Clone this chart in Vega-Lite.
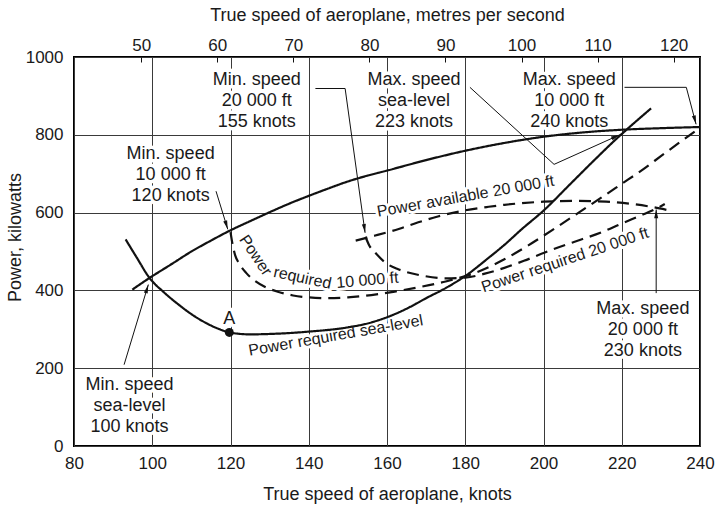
{
  "$schema": "https://vega.github.io/schema/vega-lite/v6.json",
  "width": 626,
  "height": 389,
  "autosize": {"type": "none"},
  "padding": {"left": 74, "top": 57, "right": 18, "bottom": 61},
  "background": "white",
  "config": {
    "view": {"stroke": "#000", "strokeWidth": 2},
    "font": "Liberation Sans",
    "text": {"font": "Liberation Sans", "color": "#1a1a1a"},
    "axis": {
      "labelFont": "Liberation Sans", "titleFont": "Liberation Sans",
      "labelFontSize": 17, "titleFontSize": 18,
      "labelColor": "#1a1a1a", "titleColor": "#1a1a1a", "titleFontWeight": "normal",
      "gridColor": "#3a3a3a", "gridOpacity": 1, "gridWidth": 1,
      "domain": false, "ticks": false, "labelFlush": false, "labelOverlap": false
    }
  },
  "datasets": {
    "curves": [
      {"series": "avail", "knots": 94.9, "kw": 402}, {"series": "avail", "knots": 99.3, "kw": 432},
      {"series": "avail", "knots": 105, "kw": 468}, {"series": "avail", "knots": 110, "kw": 500},
      {"series": "avail", "knots": 115, "kw": 528}, {"series": "avail", "knots": 119.5, "kw": 552},
      {"series": "avail", "knots": 125, "kw": 578}, {"series": "avail", "knots": 130, "kw": 601},
      {"series": "avail", "knots": 135, "kw": 623}, {"series": "avail", "knots": 140, "kw": 643},
      {"series": "avail", "knots": 145, "kw": 662}, {"series": "avail", "knots": 150, "kw": 680},
      {"series": "avail", "knots": 155, "kw": 695}, {"series": "avail", "knots": 160, "kw": 708},
      {"series": "avail", "knots": 170, "kw": 735}, {"series": "avail", "knots": 180, "kw": 759},
      {"series": "avail", "knots": 190, "kw": 779}, {"series": "avail", "knots": 200, "kw": 795},
      {"series": "avail", "knots": 210, "kw": 806}, {"series": "avail", "knots": 220, "kw": 813},
      {"series": "avail", "knots": 230, "kw": 817}, {"series": "avail", "knots": 240, "kw": 820},

      {"series": "req_sl", "knots": 93.2, "kw": 531}, {"series": "req_sl", "knots": 96, "kw": 485},
      {"series": "req_sl", "knots": 99.3, "kw": 432}, {"series": "req_sl", "knots": 103, "kw": 395},
      {"series": "req_sl", "knots": 106.8, "kw": 363}, {"series": "req_sl", "knots": 110, "kw": 339},
      {"series": "req_sl", "knots": 113.6, "kw": 317}, {"series": "req_sl", "knots": 117, "kw": 301},
      {"series": "req_sl", "knots": 119.7, "kw": 292}, {"series": "req_sl", "knots": 125, "kw": 287},
      {"series": "req_sl", "knots": 130, "kw": 288}, {"series": "req_sl", "knots": 140, "kw": 294},
      {"series": "req_sl", "knots": 150, "kw": 305}, {"series": "req_sl", "knots": 155, "kw": 315},
      {"series": "req_sl", "knots": 160, "kw": 331}, {"series": "req_sl", "knots": 166, "kw": 358},
      {"series": "req_sl", "knots": 170, "kw": 380}, {"series": "req_sl", "knots": 175, "kw": 406},
      {"series": "req_sl", "knots": 180, "kw": 437}, {"series": "req_sl", "knots": 186, "kw": 484},
      {"series": "req_sl", "knots": 190, "kw": 517}, {"series": "req_sl", "knots": 194.4, "kw": 557},
      {"series": "req_sl", "knots": 200, "kw": 605}, {"series": "req_sl", "knots": 207, "kw": 675},
      {"series": "req_sl", "knots": 213, "kw": 735}, {"series": "req_sl", "knots": 219, "kw": 793},
      {"series": "req_sl", "knots": 222, "kw": 820}, {"series": "req_sl", "knots": 227.5, "kw": 868},

      {"series": "req_10k", "knots": 120, "kw": 550}, {"series": "req_10k", "knots": 120.5, "kw": 520},
      {"series": "req_10k", "knots": 121.2, "kw": 490}, {"series": "req_10k", "knots": 122.1, "kw": 471},
      {"series": "req_10k", "knots": 124, "kw": 445}, {"series": "req_10k", "knots": 126.3, "kw": 424},
      {"series": "req_10k", "knots": 129, "kw": 408}, {"series": "req_10k", "knots": 132.3, "kw": 396},
      {"series": "req_10k", "knots": 136, "kw": 387}, {"series": "req_10k", "knots": 140, "kw": 382},
      {"series": "req_10k", "knots": 145, "kw": 380}, {"series": "req_10k", "knots": 150, "kw": 382},
      {"series": "req_10k", "knots": 156, "kw": 388}, {"series": "req_10k", "knots": 162, "kw": 397},
      {"series": "req_10k", "knots": 168, "kw": 408}, {"series": "req_10k", "knots": 175, "kw": 423},
      {"series": "req_10k", "knots": 183, "kw": 447}, {"series": "req_10k", "knots": 190, "kw": 480},
      {"series": "req_10k", "knots": 196, "kw": 515}, {"series": "req_10k", "knots": 203, "kw": 560},
      {"series": "req_10k", "knots": 209, "kw": 600}, {"series": "req_10k", "knots": 215, "kw": 640},
      {"series": "req_10k", "knots": 220, "kw": 674}, {"series": "req_10k", "knots": 225, "kw": 708},
      {"series": "req_10k", "knots": 230, "kw": 745}, {"series": "req_10k", "knots": 235, "kw": 782},
      {"series": "req_10k", "knots": 240, "kw": 818},

      {"series": "req_20k", "knots": 154.5, "kw": 538}, {"series": "req_20k", "knots": 155.5, "kw": 515},
      {"series": "req_20k", "knots": 157, "kw": 497}, {"series": "req_20k", "knots": 159.5, "kw": 472},
      {"series": "req_20k", "knots": 163, "kw": 454}, {"series": "req_20k", "knots": 169, "kw": 438},
      {"series": "req_20k", "knots": 175, "kw": 431}, {"series": "req_20k", "knots": 180, "kw": 433},
      {"series": "req_20k", "knots": 185, "kw": 443}, {"series": "req_20k", "knots": 190, "kw": 458},
      {"series": "req_20k", "knots": 195, "kw": 476}, {"series": "req_20k", "knots": 200, "kw": 496},
      {"series": "req_20k", "knots": 205, "kw": 515}, {"series": "req_20k", "knots": 210, "kw": 532},
      {"series": "req_20k", "knots": 215, "kw": 550}, {"series": "req_20k", "knots": 220, "kw": 572},
      {"series": "req_20k", "knots": 225, "kw": 593}, {"series": "req_20k", "knots": 228.4, "kw": 608},
      {"series": "req_20k", "knots": 231, "kw": 622},

      {"series": "avail_20k", "knots": 152, "kw": 528}, {"series": "avail_20k", "knots": 157, "kw": 541},
      {"series": "avail_20k", "knots": 163, "kw": 558}, {"series": "avail_20k", "knots": 168, "kw": 575},
      {"series": "avail_20k", "knots": 173, "kw": 590}, {"series": "avail_20k", "knots": 180, "kw": 606},
      {"series": "avail_20k", "knots": 186, "kw": 615}, {"series": "avail_20k", "knots": 190, "kw": 620},
      {"series": "avail_20k", "knots": 200, "kw": 628}, {"series": "avail_20k", "knots": 208, "kw": 630},
      {"series": "avail_20k", "knots": 216, "kw": 628}, {"series": "avail_20k", "knots": 222, "kw": 623},
      {"series": "avail_20k", "knots": 228, "kw": 614}, {"series": "avail_20k", "knots": 231.5, "kw": 607}
    ],
    "notes": [
      {"text": "Min. speed\n20 000 ft\n155 knots", "knots": 126.7, "kw": 941},
      {"text": "Max. speed\nsea-level\n223 knots", "knots": 166.9, "kw": 941},
      {"text": "Max. speed\n10 000 ft\n240 knots", "knots": 206.6, "kw": 941},
      {"text": "Min. speed\n10 000 ft\n120 knots", "knots": 104.7, "kw": 751},
      {"text": "Min. speed\nsea-level\n100 knots", "knots": 94.2, "kw": 157},
      {"text": "Max. speed\n20 000 ft\n230 knots", "knots": 225.4, "kw": 352},
      {"text": "A", "knots": 119.7, "kw": 327}
    ],
    "leaders": [
      {"id": "L1", "knots": 92.8, "kw": 209}, {"id": "L1", "knots": 99, "kw": 415},
      {"id": "L2", "knots": 116.3, "kw": 655}, {"id": "L2", "knots": 119.3, "kw": 557},
      {"id": "L3", "knots": 141.7, "kw": 919}, {"id": "L3", "knots": 149.3, "kw": 919}, {"id": "L3", "knots": 154.4, "kw": 548},
      {"id": "L4", "knots": 181.2, "kw": 922}, {"id": "L4", "knots": 202.7, "kw": 724}, {"id": "L4", "knots": 219.5, "kw": 800},
      {"id": "L5", "knots": 220.7, "kw": 922}, {"id": "L5", "knots": 236.5, "kw": 922}, {"id": "L5", "knots": 239, "kw": 827},
      {"id": "L6", "knots": 228.8, "kw": 393}, {"id": "L6", "knots": 228.8, "kw": 608}
    ],
    "tips": [
      {"id": "L1", "knots": 99, "kw": 415},
      {"id": "L2", "knots": 119.3, "kw": 557},
      {"id": "L3", "knots": 154.4, "kw": 548},
      {"id": "L4", "knots": 219.5, "kw": 800},
      {"id": "L5", "knots": 239, "kw": 827},
      {"id": "L6", "knots": 228.8, "kw": 608}
    ],
    "pointA": [{"knots": 119.7, "kw": 292}],
    "ms": [{"ms": 41.156}, {"ms": 123.467}]
  },
  "layer": [
    {
      "encoding": {
        "x": {"field": "knots", "type": "quantitative", "scale": {"domain": [80, 240], "nice": false, "zero": false},
          "axis": {"values": [80, 100, 120, 140, 160, 180, 200, 220, 240], "title": "True speed of aeroplane, knots", "grid": true, "labelPadding": 9, "titleBaseline": "middle", "titleY": 48}},
        "y": {"field": "kw", "type": "quantitative", "scale": {"domain": [0, 1000], "nice": false, "zero": true},
          "axis": {"values": [0, 200, 400, 600, 800, 1000], "format": "d", "title": "Power, kilowatts", "grid": true, "labelPadding": 11, "titleBaseline": "middle", "titleX": -59, "titleY": 180}}
      },
      "layer": [
        {
          "data": {"name": "notes"},
          "mark": {"type": "text", "fontSize": 18, "lineHeight": 21, "lineBreak": "\n", "align": "center", "baseline": "middle", "fill": "white", "stroke": "white", "strokeWidth": 7, "strokeJoin": "round"},
          "encoding": {"text": {"field": "text", "type": "nominal"}}
        },
        {
          "data": {"values": [{"label": "Power required sea-level", "knots": 146.9, "kw": 284}]},
          "mark": {"type": "text", "fontSize": 16, "angle": -10, "align": "center", "baseline": "middle", "fill": "white", "stroke": "white", "strokeWidth": 6, "strokeJoin": "round"},
          "encoding": {"text": {"field": "label"}}
        },
        {
          "data": {"values": [{"label": "Power", "knots": 126.4, "kw": 490}]},
          "mark": {"type": "text", "fontSize": 16, "angle": 56, "align": "center", "baseline": "middle", "fill": "white", "stroke": "white", "strokeWidth": 6, "strokeJoin": "round"},
          "encoding": {"text": {"field": "label"}}
        },
        {
          "data": {"values": [{"label": "required", "knots": 138.4, "kw": 432}]},
          "mark": {"type": "text", "fontSize": 16, "angle": 12, "align": "center", "baseline": "middle", "fill": "white", "stroke": "white", "strokeWidth": 6, "strokeJoin": "round"},
          "encoding": {"text": {"field": "label"}}
        },
        {
          "data": {"values": [{"label": "10 000 ft", "knots": 155, "kw": 426}]},
          "mark": {"type": "text", "fontSize": 16, "angle": -5, "align": "center", "baseline": "middle", "fill": "white", "stroke": "white", "strokeWidth": 6, "strokeJoin": "round"},
          "encoding": {"text": {"field": "label"}}
        },
        {
          "data": {"values": [{"label": "Power available 20 000 ft", "knots": 180.1, "kw": 642}]},
          "mark": {"type": "text", "fontSize": 16, "angle": -10, "align": "center", "baseline": "middle", "fill": "white", "stroke": "white", "strokeWidth": 6, "strokeJoin": "round"},
          "encoding": {"text": {"field": "label"}}
        },
        {
          "data": {"values": [{"label": "Power required 20 000 ft", "knots": 205.5, "kw": 478}]},
          "mark": {"type": "text", "fontSize": 16, "angle": -18.5, "align": "center", "baseline": "middle", "fill": "white", "stroke": "white", "strokeWidth": 6, "strokeJoin": "round"},
          "encoding": {"text": {"field": "label"}}
        },
        {
          "data": {"name": "curves"},
          "mark": {"type": "line", "interpolate": "monotone", "color": "#111"},
          "encoding": {
            "detail": {"field": "series"},
            "strokeDash": {"field": "series", "type": "nominal", "scale": {"domain": ["avail", "req_sl", "req_10k", "req_20k", "avail_20k"], "range": [[1, 0], [1, 0], [12, 7], [12, 7], [12, 7]]}, "legend": null},
            "strokeWidth": {"field": "series", "type": "nominal", "scale": {"domain": ["avail", "req_sl", "req_10k", "req_20k", "avail_20k"], "range": [2.2, 2.2, 1.5, 1.5, 1.5]}, "legend": null}
          }
        },
        {
          "data": {"name": "leaders"},
          "mark": {"type": "line", "color": "#111", "strokeWidth": 1},
          "encoding": {"detail": {"field": "id"}, "order": {"value": null}}
        },
        {"data": {"name": "tips"}, "transform": [{"filter": "datum.id == 'L1'"}], "mark": {"type": "point", "shape": "M0,0L-0.5,2.2L0.5,2.2Z", "filled": true, "color": "#111", "opacity": 1, "size": 64, "angle": 17}},
        {"data": {"name": "tips"}, "transform": [{"filter": "datum.id == 'L2'"}], "mark": {"type": "point", "shape": "M0,0L-0.5,2.2L0.5,2.2Z", "filled": true, "color": "#111", "opacity": 1, "size": 64, "angle": 163}},
        {"data": {"name": "tips"}, "transform": [{"filter": "datum.id == 'L3'"}], "mark": {"type": "point", "shape": "M0,0L-0.5,2.2L0.5,2.2Z", "filled": true, "color": "#111", "opacity": 1, "size": 64, "angle": 172}},
        {"data": {"name": "tips"}, "transform": [{"filter": "datum.id == 'L4'"}], "mark": {"type": "point", "shape": "M0,0L-0.5,2.2L0.5,2.2Z", "filled": true, "color": "#111", "opacity": 1, "size": 64, "angle": 66}},
        {"data": {"name": "tips"}, "transform": [{"filter": "datum.id == 'L5'"}], "mark": {"type": "point", "shape": "M0,0L-0.5,2.2L0.5,2.2Z", "filled": true, "color": "#111", "opacity": 1, "size": 64, "angle": 165}},
        {"data": {"name": "tips"}, "transform": [{"filter": "datum.id == 'L6'"}], "mark": {"type": "point", "shape": "M0,0L-0.5,2.2L0.5,2.2Z", "filled": true, "color": "#111", "opacity": 1, "size": 64, "angle": 0}},
        {
          "data": {"name": "pointA"},
          "mark": {"type": "point", "shape": "circle", "filled": true, "color": "#111", "opacity": 1, "size": 80}
        },
        {
          "data": {"name": "notes"},
          "mark": {"type": "text", "fontSize": 18, "lineHeight": 21, "lineBreak": "\n", "align": "center", "baseline": "middle", "color": "#1a1a1a"},
          "encoding": {"text": {"field": "text", "type": "nominal"}}
        },
        {
          "data": {"values": [{"label": "Power required sea-level", "knots": 146.9, "kw": 284}]},
          "mark": {"type": "text", "fontSize": 16, "angle": -10, "align": "center", "baseline": "middle", "color": "#1a1a1a"},
          "encoding": {"text": {"field": "label"}}
        },
        {
          "data": {"values": [{"label": "Power", "knots": 126.4, "kw": 490}]},
          "mark": {"type": "text", "fontSize": 16, "angle": 56, "align": "center", "baseline": "middle", "color": "#1a1a1a"},
          "encoding": {"text": {"field": "label"}}
        },
        {
          "data": {"values": [{"label": "required", "knots": 138.4, "kw": 432}]},
          "mark": {"type": "text", "fontSize": 16, "angle": 12, "align": "center", "baseline": "middle", "color": "#1a1a1a"},
          "encoding": {"text": {"field": "label"}}
        },
        {
          "data": {"values": [{"label": "10 000 ft", "knots": 155, "kw": 426}]},
          "mark": {"type": "text", "fontSize": 16, "angle": -5, "align": "center", "baseline": "middle", "color": "#1a1a1a"},
          "encoding": {"text": {"field": "label"}}
        },
        {
          "data": {"values": [{"label": "Power available 20 000 ft", "knots": 180.1, "kw": 642}]},
          "mark": {"type": "text", "fontSize": 16, "angle": -10, "align": "center", "baseline": "middle", "color": "#1a1a1a"},
          "encoding": {"text": {"field": "label"}}
        },
        {
          "data": {"values": [{"label": "Power required 20 000 ft", "knots": 205.5, "kw": 478}]},
          "mark": {"type": "text", "fontSize": 16, "angle": -18.5, "align": "center", "baseline": "middle", "color": "#1a1a1a"},
          "encoding": {"text": {"field": "label"}}
        }
      ]
    },
    {
      "data": {"name": "ms"},
      "mark": {"type": "point", "opacity": 0},
      "encoding": {
        "x": {"field": "ms", "type": "quantitative", "scale": {"domain": [41.156, 123.467], "nice": false, "zero": false},
          "axis": {"orient": "top", "values": [50, 60, 70, 80, 90, 100, 110, 120], "title": "True speed of aeroplane, metres per second", "grid": false, "ticks": true, "tickSize": -5, "tickColor": "#111", "tickWidth": 1, "labelPadding": 8, "titleBaseline": "middle", "titleY": -42}}
      }
    }
  ],
  "resolve": {"scale": {"x": "independent"}}
}
